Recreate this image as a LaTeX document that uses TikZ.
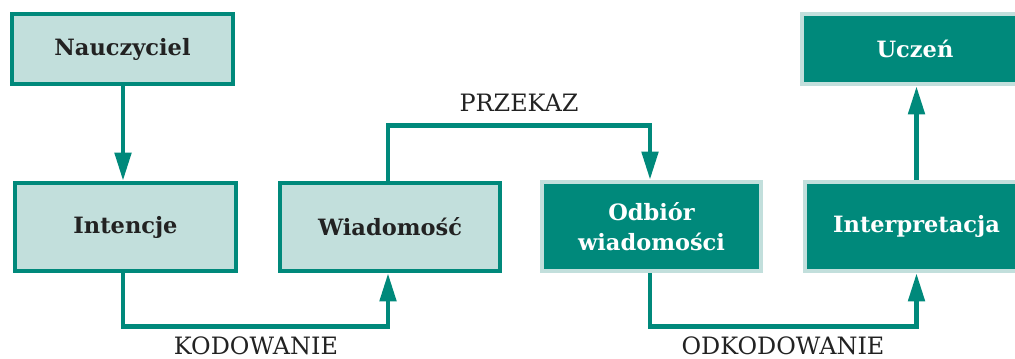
\documentclass[tikz,border=0pt]{standalone}
\usepackage{fontspec}
\setmainfont{DejaVu Serif}
\usetikzlibrary{arrows.meta}
\definecolor{tealdark}{HTML}{00897B}
\definecolor{teallight}{HTML}{C2DFDC}
\definecolor{inkgrey}{HTML}{222222}
\tikzset{
	lightbox/.style={draw=tealdark, fill=teallight, line width=3.2pt, text=inkgrey,
		font=\fontsize{16}{21}\selectfont\bfseries, align=center, inner sep=0pt},
	darkbox/.style={lightbox, draw=teallight, fill=tealdark, text=white},
	flow/.style={draw=tealdark, line width=3.2pt, -{Triangle[length=20pt,width=11.5pt]}},
	caption/.style={font=\fontsize{17}{20}\selectfont, text=inkgrey, inner sep=0pt, anchor=base}
}

\begin{document}
\begin{tikzpicture}[x=0.025cm, y=-0.025cm]
		\clip (0,0) rectangle (1015,358);
		% boxes
		\node[lightbox, minimum width=5.525cm, minimum height=1.75cm] (nau) at (122.5,49) {Nauczyciel};
		\node[lightbox, minimum width=5.525cm, minimum height=2.2cm] (int) at (125.5,227) {Intencje};
		\node[lightbox, minimum width=5.5cm, minimum height=2.2cm] (wia) at (390,227) {Wiadomość};
		\node[darkbox, minimum width=5.475cm, minimum height=2.225cm] (odb) at (651.5,226.5) {Odbiór\\wiadomości};
		\node[darkbox, minimum width=5.575cm, minimum height=2.225cm] (itp) at (916.5,226.5) {Interpretacja};
		\node[darkbox, minimum width=5.65cm, minimum height=1.75cm] (ucz) at (915,49) {Uczeń};
		% connectors
		\draw[flow] (nau.south -| 123,0) -- (int.north -| 123,0);
		\draw[flow] (int.south -| 123,0) -- ++(0,53) coordinate (k1) -- (k1 -| 388,0) -- (wia.south -| 388,0);
		\draw[flow] (wia.north -| 388,0) -- ++(0,-55) coordinate (p1) -- (p1 -| 650,0) -- (odb.north -| 650,0);
		\draw[flow] (odb.south -| 650,0) -- ++(0,53) coordinate (o1) -- (o1 -| itp.south) -- (itp.south);
		\draw[flow] (itp.north) -- (ucz.south -| itp.north);
		% labels
		\node[caption] (kod) at (256,354) {KODOWANIE};
		\node[caption] (prz) at (519,111) {PRZEKAZ};
		\node[caption] (odk) at (783,354) {ODKODOWANIE};
\end{tikzpicture}
\end{document}
